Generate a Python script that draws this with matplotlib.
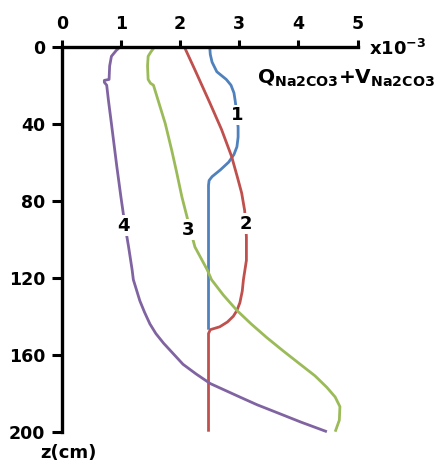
import matplotlib
matplotlib.use("Agg")
import matplotlib.pyplot as plt

plt.rcParams["font.family"] = ["DejaVu Sans"]
plt.rcParams["font.weight"] = "bold"
plt.rcParams["mathtext.fontset"] = "dejavusans"

# curve 1 (blue)
depth1 = [0, 4, 8, 13, 17, 20, 24, 28, 35, 42, 47, 52, 56, 60, 64, 67.5, 69.5, 72, 100, 147]
val1 = [2.50, 2.51, 2.54, 2.62, 2.78, 2.86, 2.91, 2.93, 2.96, 2.98, 2.98, 2.96, 2.91,
        2.82, 2.68, 2.54, 2.49, 2.48, 2.48, 2.48]
# curve 2 (red)
depth2 = [0, 12, 29, 43, 57, 68, 76, 85, 92, 99, 111, 121, 127, 133, 137, 140, 143, 145.5,
          147, 149, 200]
val2 = [2.07, 2.25, 2.50, 2.70, 2.87, 2.97, 3.04, 3.09, 3.11, 3.12, 3.12, 3.07, 3.05,
        3.01, 2.96, 2.90, 2.80, 2.67, 2.51, 2.48, 2.48]
# curve 3 (green)
depth3 = [0, 3, 5, 10, 17, 19, 20, 25, 31, 40, 54, 65, 78, 90, 104, 116, 121, 129, 137,
          144, 151, 158, 165, 171, 177, 182, 187, 194, 200]
val3 = [1.57, 1.50, 1.46, 1.45, 1.46, 1.50, 1.55, 1.60, 1.66, 1.75, 1.86, 1.94, 2.03,
        2.13, 2.25, 2.46, 2.53, 2.73, 2.96, 3.20, 3.46, 3.74, 4.03, 4.28, 4.48, 4.62,
        4.70, 4.69, 4.62]
# curve 4 (purple)
depth4 = [0, 2, 5, 10, 17, 17.5, 18.5, 20, 28, 40, 62, 78, 93, 104, 116, 121, 126, 132,
          138, 144, 149, 154, 159, 165, 170, 175, 182, 186, 190, 195, 200]
val4 = [0.99, 0.92, 0.84, 0.81, 0.80, 0.72, 0.72, 0.76, 0.79, 0.84, 0.93, 1.00, 1.07,
        1.13, 1.19, 1.21, 1.26, 1.32, 1.40, 1.49, 1.59, 1.72, 1.87, 2.05, 2.27, 2.51,
        3.01, 3.30, 3.63, 4.04, 4.48]

curve_labels = ["1", "2", "3", "4"]
label_x = [2.96, 3.11, 2.14, 1.04]
label_y = [35.5, 92, 95, 93]
colors = ["#4F81BD", "#C0504D", "#9BBB59", "#8064A2"]

x_ticks = [0, 1, 2, 3, 4, 5]
y_ticks = [0, 40, 80, 120, 160, 200]

fig = plt.figure(figsize=(4.37, 4.66), dpi=100)
ax = fig.add_axes([0.1412, 0.0736, 0.6773, 0.8262])

for d, v, c in zip([depth1, depth2, depth3, depth4], [val1, val2, val3, val4], colors):
    ax.plot(v, d, color=c, lw=2.0, clip_on=False, solid_capstyle="butt",
            solid_joinstyle="round")

for t, x, y in zip(curve_labels, label_x, label_y):
    ax.text(x, y, t, fontsize=13, fontweight="bold", ha="center", va="center",
            bbox=dict(facecolor="white", edgecolor="none", pad=1.0), zorder=5)

ax.set_xlim(0, 5)
ax.set_ylim(200, 0)
ax.xaxis.tick_top()
ax.set_xticks(x_ticks)
ax.set_yticks(y_ticks)
ax.tick_params(axis="x", direction="out", length=5, width=2.2, pad=5, labelsize=12.5)
ax.tick_params(axis="y", direction="out", length=7, width=2.2, pad=5, labelsize=12.5)
for lab in ax.get_xticklabels() + ax.get_yticklabels():
    lab.set_fontweight("bold")

for s in ["right", "bottom"]:
    ax.spines[s].set_visible(False)
for s in ["left", "top"]:
    ax.spines[s].set_linewidth(2.4)

fig.text(369 / 437, 1 - 49 / 466, r"x10$^{\mathbf{-3}}$", fontsize=13, fontweight="bold",
         ha="left", va="center")
fig.text(257 / 437, 1 - 78 / 466, r"$\mathbf{Q_{Na2CO3}{+}V_{Na2CO3}}$", fontsize=14.5,
         ha="left", va="center")
fig.text(40 / 437, 1 - 453 / 466, "z(cm)", fontsize=13, fontweight="bold",
         ha="left", va="center")

fig.savefig("out.png", dpi=100)
